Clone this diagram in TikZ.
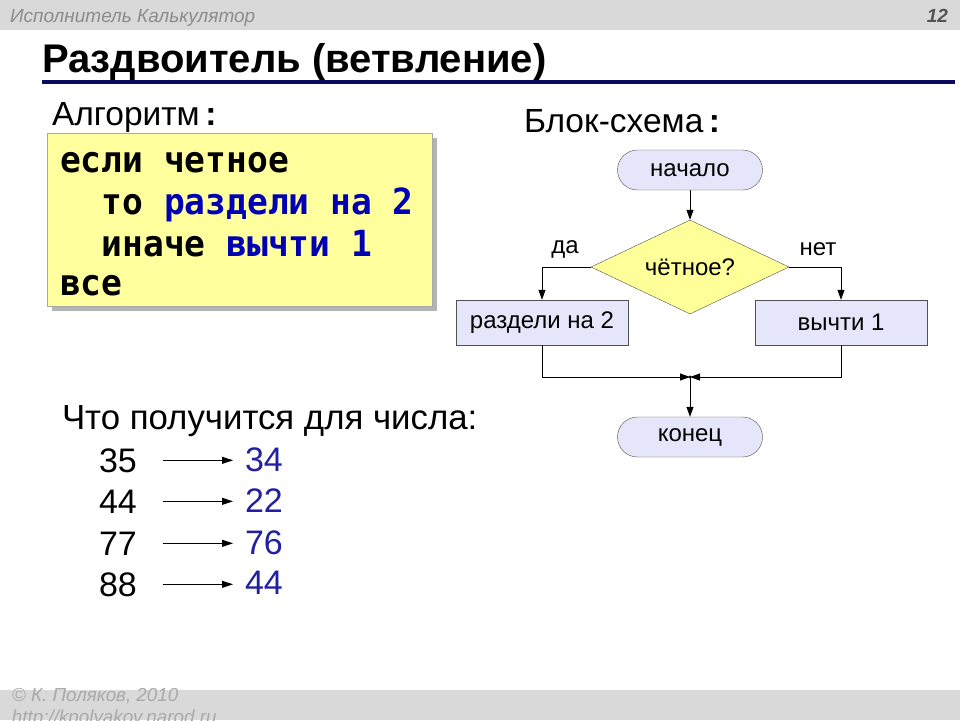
\documentclass[tikz,border=0pt]{standalone}
\usepackage{fontspec}
\setmainfont{Liberation Sans}
\newfontfamily\codefont[FakeStretch=0.96]{DejaVu Sans Mono}
\usetikzlibrary{arrows.meta,shapes.geometric}
\definecolor{bargray}{HTML}{D9D9D9}
\definecolor{hdrtext}{HTML}{8C8C8C}
\definecolor{navy}{HTML}{0A0A5E}
\definecolor{algoyellow}{HTML}{FFFF9E}
\definecolor{algoborder}{HTML}{A8A8A8}
\definecolor{shadowgray}{HTML}{B4B4B4}
\definecolor{codeblue}{HTML}{0000B4}
\definecolor{resblue}{HTML}{2020A0}
\definecolor{lavender}{HTML}{E6E6FA}
\definecolor{diayellow}{HTML}{FFFF99}
\definecolor{fcborder}{HTML}{505050}
\begin{document}
\begin{tikzpicture}[x=1pt,y=-1pt,
  txt/.style={inner sep=0pt, outer sep=0pt},
  bigger/.style={txt, anchor=base west, font=\fontsize{33.5}{36}\selectfont},
  code/.style={txt, anchor=base west, font=\codefont\bfseries\fontsize{36}{40}\selectfont},
  fctext/.style={font=\fontsize{24}{26}\selectfont},
  terminal/.style={draw=fcborder, fill=lavender, rounded corners=20pt, minimum width=145pt, minimum height=40pt, inner sep=0pt, fctext},
  proc/.style={draw=fcborder, fill=lavender, minimum width=172pt, minimum height=45pt, inner sep=0pt, fctext},
  decision/.style={diamond, draw=fcborder, fill=diayellow, minimum width=198pt, minimum height=94pt, aspect=2.1, inner sep=0pt, fctext},
  arr/.style={-{Triangle[length=10pt,width=7pt]}, line width=0.8pt},
  numarr/.style={-{Triangle[length=11pt,width=7pt]}, line width=0.8pt},
  num/.style={txt, anchor=base west, font=\fontsize{34}{36}\selectfont},
  hdr/.style={txt, anchor=base west, font=\itshape\fontsize{19}{20}\selectfont},
  ftr/.style={txt, anchor=base west, text=hdrtext!75!white, font=\itshape\fontsize{18.8}{20}\selectfont}
]
\useasboundingbox (0,0) rectangle (960,720);
\clip (0,0) rectangle (960,720);
\fill[white] (0,0) rectangle (960,720);
% header and footer bars
\fill[bargray] (0,0) rectangle (960,30);
\fill[bargray] (0,690) rectangle (960,720);
\node[hdr, text=hdrtext] (hdrtxt) at (10,22) {Исполнитель Калькулятор};
\node[hdr, anchor=base east, text=hdrtext!60!black, font=\itshape\bfseries\fontsize{19}{20}\selectfont] (pg) at (948,22) {12};
\node[ftr] (copy) at (12,701) {© К. Поляков, 2010};
\node[ftr] (url) at (12,723) {http://kpolyakov.narod.ru};
% title
\node[txt, anchor=base west, font=\bfseries\fontsize{40}{42}\selectfont] (title) at (42,72) {Раздвоитель (ветвление)};
\fill[navy] (42,80) rectangle (955,84);
% algorithm
\node[bigger] (alglbl) at (52,125) {Алгоритм\,\textbf{:}};
\fill[shadowgray] (52,138) rectangle (437,311);
\node[draw=algoborder, fill=algoyellow, line width=0.8pt, anchor=north west, minimum width=385pt, minimum height=173pt, inner sep=0pt] (algobox) at (47,133) {};
\node[code] (l1) at (60,172) {если четное};
\node[code] (l2) at (60,214) {\ \ то \textcolor{codeblue}{раздели на 2}};
\node[code] (l3) at (60,256) {\ \ иначе \textcolor{codeblue}{вычти 1}};
\node[code] (l4) at (60,295) {все};
% flowchart
\node[bigger] (fclbl) at (524,132) {Блок-схема\,\textbf{:}};
\node[terminal] (start) at (690,170) {начало};
\node[decision] (dec) at (690,267) {чётное?};
\node[proc] (b1) at (542,322.5) {раздели на 2};
\node[proc] (b2) at (841,322.5) {вычти 1};
\node[terminal] (end) at (690,437) {конец};
\node[txt, fctext] (yes) at (565,249) {да};
\node[txt, fctext] (no) at (818,249) {нет};
\coordinate (j) at (690,377);
\draw[arr] (start) -- (dec);
\draw[arr] (dec.west) -| (b1);
\draw[arr] (dec.east) -| (b2);
\draw[arr] (b1.south) |- (j);
\draw[arr] (b2.south) |- (j);
\fill (j) circle (1.6pt);
\draw[arr] (j) -- (end);
% examples
\node[bigger, font=\fontsize{34.8}{36}\selectfont] (q) at (62,429) {Что получится для числа:};
\node[num] (n1) at (99,472) {35};
\node[num] (n2) at (99,513) {44};
\node[num] (n3) at (99,555) {77};
\node[num] (n4) at (99,596) {88};
\node[num, text=resblue] (r1) at (245,471) {34};
\node[num, text=resblue] (r2) at (245,512) {22};
\node[num, text=resblue] (r3) at (245,554) {76};
\node[num, text=resblue] (r4) at (245,594) {44};
\foreach \i in {1,2,3,4}{
  \draw[numarr, shorten <=26pt, shorten >=12pt] (n\i.east) -- (n\i.east -| r\i.west);
}
\end{tikzpicture}
\end{document}
